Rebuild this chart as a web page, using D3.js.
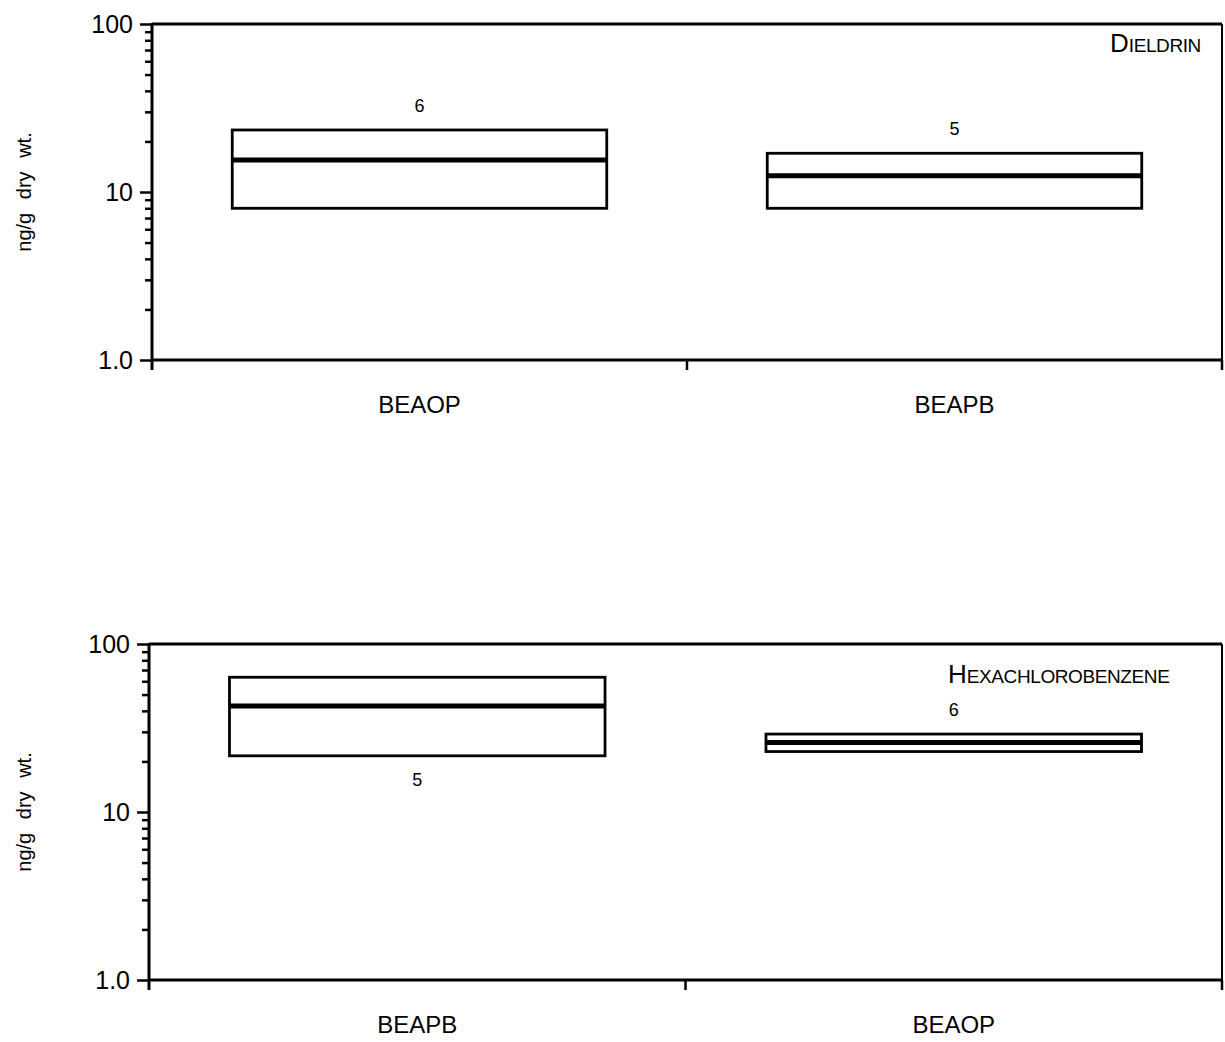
<!DOCTYPE html>
<html>
<head>
<meta charset="utf-8">
<script src="https://cdn.jsdelivr.net/npm/d3@7"></script>
<style>
  html, body { margin: 0; padding: 0; background: #fff; }
  svg { display: block; }
  text { font-family: "Liberation Sans", Arial, Helvetica, sans-serif; fill: #000; }
</style>
</head>
<body>
<svg id="chart" width="1225" height="1042"></svg>
<script>
// Dieldrin panel: concentration ranges (ng/g dry wt.) per site
const dieldrinSites  = ["BEAOP", "BEAPB"];
const dieldrinLow    = [8.0, 8.0];
const dieldrinMedian = [15.5, 12.5];
const dieldrinHigh   = [23.4, 17.0];
const dieldrinN      = [6, 5];
const dieldrinNSide  = ["above", "above"];

// Hexachlorobenzene panel
const hcbSites  = ["BEAPB", "BEAOP"];
const hcbLow    = [21.6, 22.9];
const hcbMedian = [42.8, 25.9];
const hcbHigh   = [63.4, 29.1];
const hcbN      = [5, 6];
const hcbNSide  = ["below", "above"];

// Axis ticks
const majorTicks = [1, 10, 100];
const minorTicks = [2, 3, 4, 5, 6, 7, 8, 9, 20, 30, 40, 50, 60, 70, 80, 90];
const majorTickLabels = ["1.0", "10", "100"];
const yTitle = "ng/g dry wt.";

const svg = d3.select("#chart");

const panels = [
  { title: "Dieldrin", sites: dieldrinSites, low: dieldrinLow, median: dieldrinMedian,
    high: dieldrinHigh, n: dieldrinN, nSide: dieldrinNSide,
    frame: { left: 152, right: 1222, top: 24, bottom: 360 }, titleX: 1110, titleY: 52 },
  { title: "Hexachlorobenzene", sites: hcbSites, low: hcbLow, median: hcbMedian,
    high: hcbHigh, n: hcbN, nSide: hcbNSide,
    frame: { left: 149, right: 1222, top: 644, bottom: 980 }, titleX: 948, titleY: 683 }
];

panels.forEach(p => {
  const f = p.frame;
  const g = svg.append("g");

  const y = d3.scaleLog().domain([1, 100]).range([f.bottom, f.top]);
  const x = d3.scaleBand().domain(p.sites).range([f.left, f.right]).padding(0);
  const boxW = x.bandwidth() * 0.7;

  // frame: top and right edges
  g.append("line").attr("x1", f.left).attr("x2", f.right).attr("y1", f.top).attr("y2", f.top)
    .attr("stroke", "#000").attr("stroke-width", 3);
  g.append("line").attr("x1", f.right).attr("x2", f.right).attr("y1", f.top).attr("y2", f.bottom)
    .attr("stroke", "#000").attr("stroke-width", 2);

  // y axis: minor ticks
  g.append("g").attr("transform", `translate(${f.left},0)`)
    .call(d3.axisLeft(y).tickValues(minorTicks).tickSize(7).tickFormat(""))
    .call(a => a.select(".domain").remove())
    .call(a => a.selectAll(".tick line").attr("stroke", "#000").attr("stroke-width", 2.5));

  // y axis: major ticks with labels
  g.append("g").attr("transform", `translate(${f.left},0)`)
    .call(d3.axisLeft(y).tickValues(majorTicks).tickSize(12).tickPadding(7)
      .tickFormat((d, i) => majorTickLabels[i]))
    .call(a => a.select(".domain").remove())
    .call(a => a.selectAll(".tick line").attr("stroke", "#000").attr("stroke-width", 2.5))
    .call(a => a.selectAll(".tick text").attr("font-size", 25).attr("fill", "#000")
      .style("font-family", "'Liberation Sans', Arial, sans-serif"));

  // y axis line, running a little below the x axis
  g.append("line").attr("x1", f.left).attr("x2", f.left).attr("y1", f.top - 1).attr("y2", f.bottom + 10)
    .attr("stroke", "#000").attr("stroke-width", 3);

  // x axis with ticks at the band boundaries
  g.append("g").attr("transform", `translate(0,${f.bottom})`)
    .call(d3.axisBottom(x).tickSize(0).tickPadding(36))
    .call(a => a.select(".domain").attr("stroke", "#000").attr("stroke-width", 3)
      .attr("d", `M${f.left},0H${f.right}`))
    .call(a => a.selectAll(".tick text").attr("font-size", 24).attr("fill", "#000")
      .style("font-family", "'Liberation Sans', Arial, sans-serif"));

  g.selectAll(".xsep").data(p.sites).join("line")
    .attr("x1", d => x(d) + x.bandwidth()).attr("x2", d => x(d) + x.bandwidth())
    .attr("y1", f.bottom).attr("y2", f.bottom + 10)
    .attr("stroke", "#000").attr("stroke-width", 2.5);

  // range boxes
  const rows = p.sites.map((s, i) => ({ site: s, low: p.low[i], median: p.median[i],
    high: p.high[i], n: p.n[i], side: p.nSide[i] }));

  const box = g.selectAll(".box").data(rows).join("g");
  box.append("rect")
    .attr("x", d => x(d.site) + (x.bandwidth() - boxW) / 2)
    .attr("width", boxW)
    .attr("y", d => y(d.high))
    .attr("height", d => y(d.low) - y(d.high))
    .attr("fill", "none").attr("stroke", "#000").attr("stroke-width", 2.8);
  box.append("line")
    .attr("x1", d => x(d.site) + (x.bandwidth() - boxW) / 2)
    .attr("x2", d => x(d.site) + (x.bandwidth() + boxW) / 2)
    .attr("y1", d => y(d.median)).attr("y2", d => y(d.median))
    .attr("stroke", "#000").attr("stroke-width", 5);
  box.append("text")
    .attr("x", d => x(d.site) + x.bandwidth() / 2)
    .attr("y", d => d.side === "above" ? y(d.high) - 18 : y(d.low) + 30)
    .attr("text-anchor", "middle").attr("font-size", 18)
    .text(d => d.n);

  // panel title in small caps
  const t = g.append("text").attr("x", p.titleX).attr("y", p.titleY);
  t.append("tspan").attr("font-size", 26).text(p.title[0].toUpperCase());
  t.append("tspan").attr("font-size", 19).attr("letter-spacing", -0.4)
    .text(p.title.slice(1).toUpperCase());

  // y axis title
  const cy = (f.top + f.bottom) / 2;
  g.append("text")
    .attr("transform", `translate(31,${cy}) rotate(-90)`)
    .attr("text-anchor", "middle").attr("font-size", 20)
    .attr("word-spacing", 8)
    .text(yTitle);
});
</script>
</body>
</html>
